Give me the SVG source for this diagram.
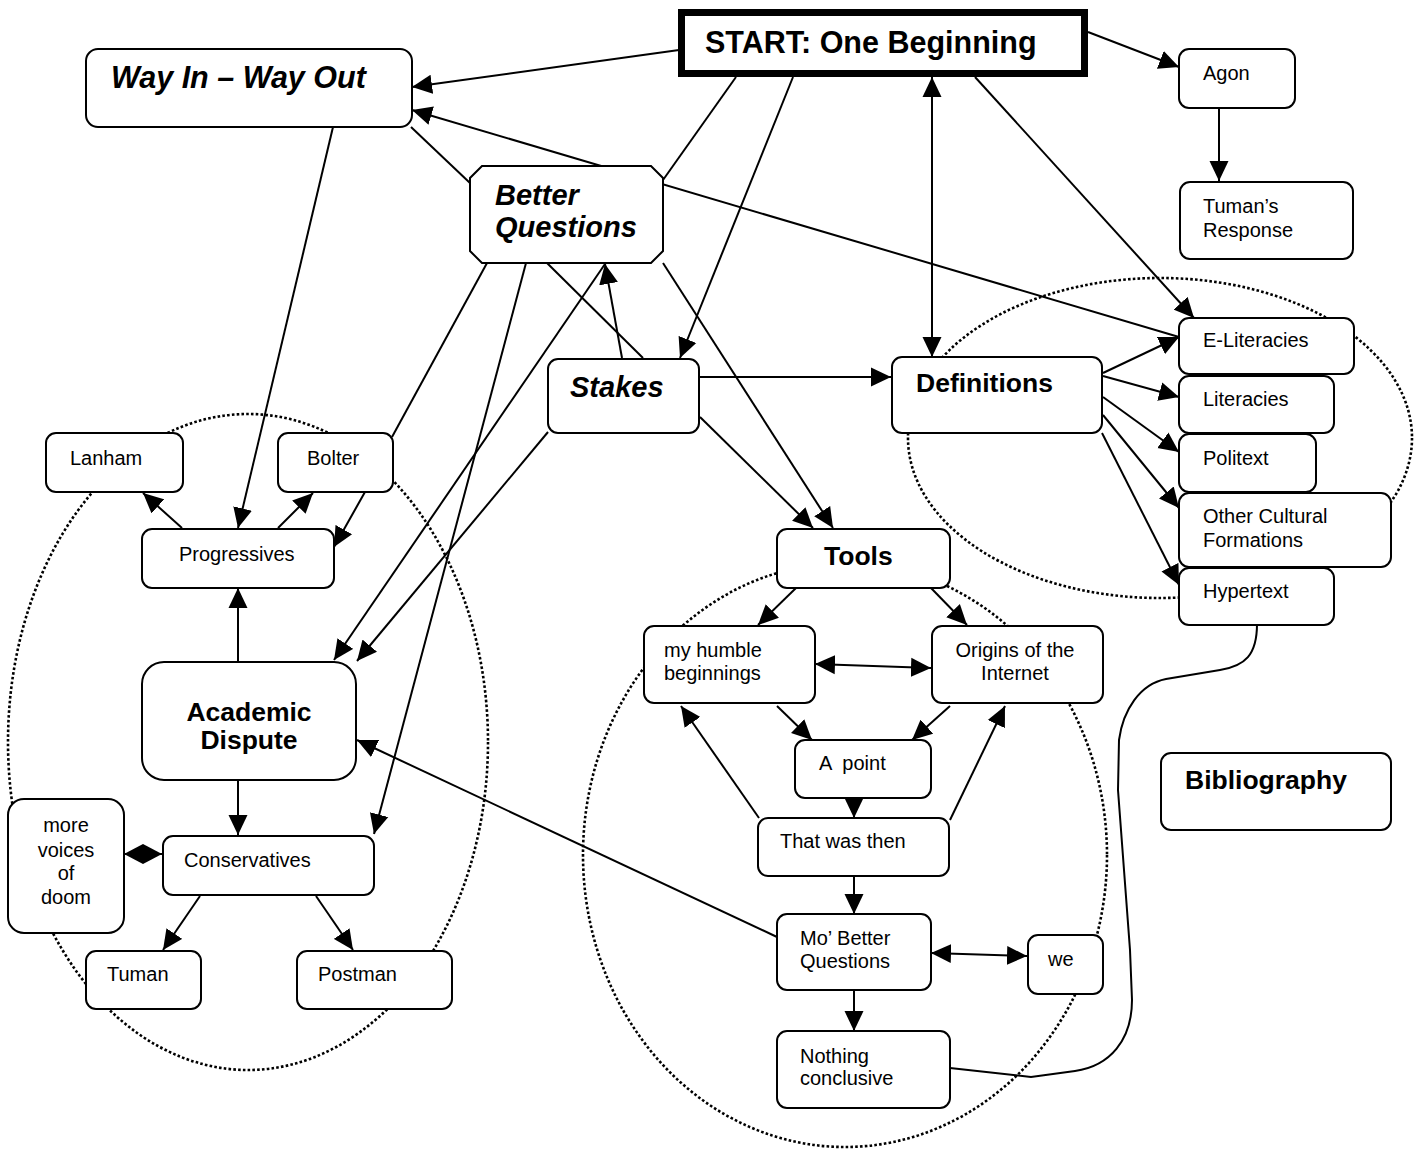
<svg xmlns="http://www.w3.org/2000/svg" width="1423" height="1149" viewBox="0 0 1423 1149">
  <style>
    .bg { fill: #ffffff; }
    .box { fill: #ffffff; stroke: #000000; stroke-width: 2; }
    .start { fill: #ffffff; stroke: #000000; stroke-width: 7; }
    .grp { fill: none; stroke: #000000; stroke-width: 2.6; stroke-dasharray: 2.6 2.2; }
    .ln { fill: none; stroke: #000000; stroke-width: 2; }
    .arr { marker-end: url(#arrow); }
    .both { marker-start: url(#arrow); marker-end: url(#arrow); }
    text { font-family: "Liberation Sans", Arial, sans-serif; fill: #000000; }
    .t { font-size: 20px; }
    .h { font-size: 26.5px; font-weight: bold; }
    .hi { font-size: 29px; font-weight: bold; font-style: italic; }
    .title { font-size: 30.5px; font-weight: bold; }
    .mid { text-anchor: middle; }
  </style>
  <defs>
    <marker id="arrow" viewBox="0 0 20 20" refX="20" refY="10" markerWidth="20" markerHeight="20" markerUnits="userSpaceOnUse" orient="auto-start-reverse">
      <path d="M0,0.5 L20,10 L0,19.5 z" fill="#000000"/>
    </marker>
    <marker id="diamond" viewBox="0 0 38 20" refX="38" refY="10" markerWidth="38" markerHeight="20" markerUnits="userSpaceOnUse" orient="auto">
      <path d="M0,10 L19,0 L38,10 L19,20 z" fill="#000000"/>
    </marker>
  </defs>

  <rect class="bg" x="0" y="0" width="1423" height="1149"/>

  <!-- dotted groupings -->
  <g id="groupings">
    <ellipse class="grp" cx="248" cy="742" rx="240" ry="328"/>
    <ellipse class="grp" cx="845" cy="855" rx="262" ry="292"/>
    <ellipse class="grp" cx="1160" cy="438" rx="252" ry="160"/>
  </g>

  <!-- connectors -->
  <g id="connectors">
    <path class="ln arr" d="M679,50 L412,87"/>
    <path class="ln arr" d="M1179,337 L412,110"/>
    <path class="ln" d="M411,127 L470,183"/>
    <path class="ln arr" d="M333,127 L238,528"/>
    <path class="ln" d="M736,77 L663,180"/>
    <path class="ln arr" d="M793,77 L680,358"/>
    <path class="ln both" d="M932,77 L932,357"/>
    <path class="ln arr" d="M975,77 L1194,318"/>
    <path class="ln arr" d="M1088,32 L1179,67"/>
    <path class="ln arr" d="M1219,108 L1219,181"/>

    <path class="ln" d="M487,263 L392,437"/>
    <path class="ln arr" d="M526,263 L374,834"/>
    <path class="ln" d="M547,263 L643,358"/>
    <path class="ln arr" d="M622,358 L605,264"/>
    <path class="ln arr" d="M605,264 L334,660"/>
    <path class="ln arr" d="M548,432 L357,661"/>
    <path class="ln arr" d="M663,263 L833,528"/>
    <path class="ln arr" d="M700,417 L813,528"/>
    <path class="ln arr" d="M700,377 L891,377"/>

    <path class="ln arr" d="M1103,373 L1179,337"/>
    <path class="ln arr" d="M1103,376 L1179,397"/>
    <path class="ln arr" d="M1103,397 L1179,452"/>
    <path class="ln arr" d="M1103,415 L1179,508"/>
    <path class="ln arr" d="M1102,433 L1179,585"/>

    <path class="ln arr" d="M182,528 L143,493"/>
    <path class="ln arr" d="M278,528 L313,493"/>
    <path class="ln arr" d="M365,492 L334,547"/>
    <path class="ln arr" d="M238,662 L238,588"/>
    <path class="ln arr" d="M238,780 L238,835"/>
    <path class="ln" d="M162,854 L124,854" marker-end="url(#diamond)"/>
    <path class="ln arr" d="M200,896 L163,950"/>
    <path class="ln arr" d="M316,896 L353,950"/>

    <path class="ln arr" d="M796,588 L758,625"/>
    <path class="ln arr" d="M931,588 L967,625"/>
    <path class="ln both" d="M815,664 L931,668"/>
    <path class="ln arr" d="M777,706 L812,740"/>
    <path class="ln arr" d="M950,706 L912,740"/>
    <path class="ln arr" d="M854,798 L854,818"/>
    <path class="ln arr" d="M759,818 L681,706"/>
    <path class="ln arr" d="M950,820 L1005,706"/>
    <path class="ln arr" d="M854,876 L854,914"/>
    <path class="ln both" d="M931,953 L1027,956"/>
    <path class="ln arr" d="M854,990 L854,1031"/>
    <path class="ln arr" d="M777,937 L357,740"/>

    <path class="ln" d="M1257,624 C1257,655 1245,666 1220,670 L1166,679 C1140,684 1123,710 1119,740 L1118,790 L1130,950 L1132,1000 C1132,1040 1110,1066 1075,1071 L1031,1077 L950,1068"/>
  </g>

  <!-- nodes -->
  <g id="start">
    <rect class="start" x="681.5" y="12.5" width="403" height="61"/>
    <text class="title" x="705" y="53">START: One Beginning</text>
  </g>
  <g id="way-in-way-out">
    <rect class="box" x="86" y="49" width="326" height="78" rx="12"/>
    <text class="hi" x="111" y="88" style="font-size:30.5px">Way In – Way Out</text>
  </g>
  <g id="agon">
    <rect class="box" x="1179" y="49" width="116" height="59" rx="10"/>
    <text class="t" x="1203" y="80">Agon</text>
  </g>
  <g id="tumans-response">
    <rect class="box" x="1180" y="182" width="173" height="77" rx="10"/>
    <text class="t" x="1203" y="213">Tuman’s</text>
    <text class="t" x="1203" y="237">Response</text>
  </g>
  <g id="better-questions">
    <polygon class="box" points="482,166 651,166 663,178 663,251 651,263 482,263 470,251 470,178"/>
    <text class="hi" x="495" y="205">Better</text>
    <text class="hi" x="495" y="237">Questions</text>
  </g>
  <g id="stakes">
    <rect class="box" x="548" y="359" width="151" height="74" rx="10"/>
    <text class="hi" x="570" y="397">Stakes</text>
  </g>
  <g id="definitions">
    <rect class="box" x="892" y="357" width="210" height="76" rx="10"/>
    <text class="h" x="916" y="392">Definitions</text>
  </g>
  <g id="e-literacies">
    <rect class="box" x="1179" y="318" width="175" height="56" rx="10"/>
    <text class="t" x="1203" y="347">E-Literacies</text>
  </g>
  <g id="literacies">
    <rect class="box" x="1179" y="376" width="155" height="57" rx="10"/>
    <text class="t" x="1203" y="406">Literacies</text>
  </g>
  <g id="politext">
    <rect class="box" x="1179" y="434" width="137" height="58" rx="10"/>
    <text class="t" x="1203" y="465">Politext</text>
  </g>
  <g id="other-cultural-formations">
    <rect class="box" x="1179" y="493" width="212" height="74" rx="10"/>
    <text class="t" x="1203" y="523">Other Cultural</text>
    <text class="t" x="1203" y="547">Formations</text>
  </g>
  <g id="hypertext">
    <rect class="box" x="1179" y="568" width="155" height="57" rx="10"/>
    <text class="t" x="1203" y="598">Hypertext</text>
  </g>
  <g id="bibliography">
    <rect class="box" x="1161" y="753" width="230" height="77" rx="10"/>
    <text class="h" x="1185" y="789">Bibliography</text>
  </g>

  <g id="lanham">
    <rect class="box" x="46" y="433" width="137" height="59" rx="10"/>
    <text class="t" x="70" y="465">Lanham</text>
  </g>
  <g id="bolter">
    <rect class="box" x="278" y="433" width="115" height="59" rx="10"/>
    <text class="t" x="307" y="465">Bolter</text>
  </g>
  <g id="progressives">
    <rect class="box" x="142" y="529" width="192" height="59" rx="10"/>
    <text class="t" x="179" y="561">Progressives</text>
  </g>
  <g id="academic-dispute">
    <rect class="box" x="142" y="662" width="214" height="118" rx="22"/>
    <text class="h mid" x="249" y="721">Academic</text>
    <text class="h mid" x="249" y="749">Dispute</text>
  </g>
  <g id="more-voices-of-doom">
    <rect class="box" x="8" y="799" width="116" height="134" rx="16"/>
    <text class="t mid" x="66" y="832">more</text>
    <text class="t mid" x="66" y="857">voices</text>
    <text class="t mid" x="66" y="880">of</text>
    <text class="t mid" x="66" y="904">doom</text>
  </g>
  <g id="conservatives">
    <rect class="box" x="163" y="836" width="211" height="59" rx="10"/>
    <text class="t" x="184" y="867">Conservatives</text>
  </g>
  <g id="tuman">
    <rect class="box" x="86" y="951" width="115" height="58" rx="10"/>
    <text class="t" x="107" y="981">Tuman</text>
  </g>
  <g id="postman">
    <rect class="box" x="297" y="951" width="155" height="58" rx="10"/>
    <text class="t" x="318" y="981">Postman</text>
  </g>

  <g id="tools">
    <rect class="box" x="777" y="529" width="173" height="59" rx="10"/>
    <text class="h" x="824" y="565">Tools</text>
  </g>
  <g id="my-humble-beginnings">
    <rect class="box" x="644" y="626" width="171" height="77" rx="10"/>
    <text class="t" x="664" y="657">my humble</text>
    <text class="t" x="664" y="680">beginnings</text>
  </g>
  <g id="origins-of-the-internet">
    <rect class="box" x="932" y="626" width="171" height="77" rx="10"/>
    <text class="t mid" x="1015" y="657">Origins of the</text>
    <text class="t mid" x="1015" y="680">Internet</text>
  </g>
  <g id="a-point">
    <rect class="box" x="795" y="740" width="136" height="58" rx="10"/>
    <text class="t" x="819" y="770" xml:space="preserve">A  point</text>
  </g>
  <g id="that-was-then">
    <rect class="box" x="758" y="818" width="191" height="58" rx="10"/>
    <text class="t" x="780" y="848">That was then</text>
  </g>
  <g id="mo-better-questions">
    <rect class="box" x="777" y="914" width="154" height="76" rx="10"/>
    <text class="t" x="800" y="945">Mo’ Better</text>
    <text class="t" x="800" y="968">Questions</text>
  </g>
  <g id="we">
    <rect class="box" x="1028" y="935" width="75" height="59" rx="10"/>
    <text class="t" x="1048" y="966">we</text>
  </g>
  <g id="nothing-conclusive">
    <rect class="box" x="777" y="1031" width="173" height="77" rx="10"/>
    <text class="t" x="800" y="1063">Nothing</text>
    <text class="t" x="800" y="1085">conclusive</text>
  </g>
</svg>
